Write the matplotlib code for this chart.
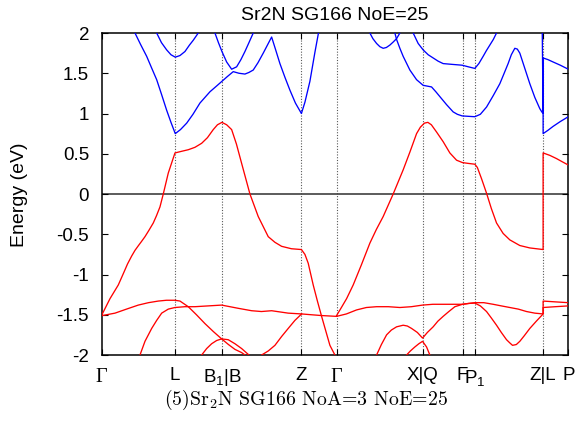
import matplotlib
matplotlib.use('Agg')
import matplotlib.pyplot as plt

plt.rcParams['font.family'] = ['Liberation Sans', 'DejaVu Sans']
plt.rcParams['mathtext.fontset'] = 'custom'
plt.rcParams['mathtext.rm'] = 'Liberation Sans'
plt.rcParams['mathtext.it'] = 'Liberation Sans:italic'
plt.rcParams['mathtext.bf'] = 'Liberation Sans:bold'

# ---------------- data ----------------
title = "Sr2N SG166 NoE=25"
caption = "(5)Sr$_2$N SG166 NoA=3 NoE=25"
ylabel = "Energy (eV)"

kpath_pos = [0, 73.5, 120.5, 200, 235.2, 321.2, 361.2, 373.5, 441.8, 467]
kpath_labels = ["Γ", "L", "B$_1$|B", "Z", "Γ", "X|Q", "F", "P$_1$", "Z|L", "P"]

ytick_vals = [-2, -1.5, -1, -0.5, 0, 0.5, 1, 1.5, 2]
ytick_labels = ["-2", "-1.5", "-1", "-0.5", "0", "0.5", "1", "1.5", "2"]

# valence bands (red)
v1_k = [0, 8.5, 16.8, 22.5, 26, 30.2, 33.5, 37, 40, 43.5, 47.5, 51.8, 55, 58.5, 61.8,
        66.8, 73.5, 80, 86.8, 93.5, 100.2, 106, 111.8, 116, 120.5, 125.2, 130.2, 135,
        140.2, 148.5, 156.8, 166.8, 173.5, 180.2, 190, 200, 203.5, 206.8, 211.8, 216,
        220.2, 228.5, 233.5, 236]
v1_e = [-1.51, -1.30, -1.13, -0.97, -0.87, -0.77, -0.70, -0.64, -0.59, -0.53, -0.45,
        -0.36, -0.27, -0.16, 0.0, 0.26, 0.51, 0.53, 0.55, 0.58, 0.63, 0.70, 0.80, 0.86,
        0.89, 0.86, 0.80, 0.62, 0.38, 0.0, -0.28, -0.53, -0.60, -0.65, -0.68, -0.69,
        -0.75, -0.86, -1.13, -1.33, -1.52, -1.88, -2.0, -2.1]

v2_k = [235.2, 240, 245.2, 251.8, 260, 268.5, 275, 281.8, 291.8, 301.8, 308.5, 315.2,
        319, 323, 326.5, 330, 335.2, 341.8, 348.5, 355.2, 361.2, 367, 373.5, 376, 380.2,
        385.2, 390, 395.2, 401.8, 408.5, 418.5, 428.5, 441.8, 441.8, 448.5, 455.2, 461, 467]
v2_e = [-1.51, -1.41, -1.30, -1.13, -0.88, -0.61, -0.44, -0.28, 0.0, 0.30, 0.52, 0.75,
        0.83, 0.88, 0.89, 0.86, 0.77, 0.65, 0.51, 0.42, 0.39, 0.38, 0.37, 0.33, 0.19,
        0.01, -0.18, -0.36, -0.49, -0.57, -0.64, -0.67, -0.69, 0.51, 0.48, 0.44, 0.40, 0.36]

va_k = [0.8, 13.5, 25, 36.8, 47, 56.8, 65, 73.5, 78.5, 86.8, 95, 103.5, 112, 120.2,
        127, 133.5, 140.2, 143.5, 147]
va_e = [-1.51, -1.48, -1.43, -1.38, -1.35, -1.33, -1.32, -1.32, -1.33, -1.40, -1.50,
        -1.61, -1.71, -1.80, -1.87, -1.93, -1.97, -2.0, -2.04]

vb_k = [36, 38.5, 43.5, 50.2, 55.2, 60.2, 66.8, 73.5, 83.5, 93.5, 106.8, 120.2, 128.5,
        136.8, 150.2, 160, 170.2, 186.8, 200.2, 210, 220.2, 235.2, 245, 255.2, 265, 275.2,
        287, 298.5, 310, 321.2, 331.5, 341.8, 351.5, 361.2, 367, 373.5, 382.5, 391.8, 400,
        408.5, 417, 425.2, 433.5, 441.8, 441.8, 454, 467]
vb_e = [-2.08, -2.0, -1.83, -1.67, -1.57, -1.48, -1.43, -1.41, -1.40, -1.40, -1.39,
        -1.38, -1.40, -1.42, -1.45, -1.46, -1.45, -1.48, -1.49, -1.50, -1.51, -1.52,
        -1.49, -1.44, -1.41, -1.40, -1.40, -1.41, -1.40, -1.38, -1.37, -1.37, -1.37,
        -1.37, -1.36, -1.35, -1.35, -1.37, -1.39, -1.41, -1.43, -1.46, -1.48, -1.49,
        -1.33, -1.34, -1.35]

vc_k = [98, 100.2, 105.2, 110.2, 115.2, 120.2, 126.8, 133.5, 140.2, 147.5, 150]
vc_e = [-2.06, -2.0, -1.92, -1.86, -1.82, -1.80, -1.81, -1.86, -1.92, -2.0, -2.05]

vd_k = [157, 160.2, 166.8, 173.5, 180.2, 186.8, 193.5, 200.2]
vd_e = [-2.06, -2.0, -1.95, -1.88, -1.77, -1.67, -1.57, -1.49]

ve_k = [272, 275.2, 280, 285.2, 290, 295.2, 301.8, 306, 310.2, 316, 321.2, 321.2, 326,
        331.8, 336.5, 341.8, 347.5, 353.5, 361.2, 367, 373.5, 379, 385.2, 390, 395.2,
        400, 405.2, 408.5, 411.2, 415, 418.5, 423, 428.5, 435, 441.8, 441.8, 454, 467]
ve_e = [-2.1, -2.0, -1.87, -1.75, -1.69, -1.65, -1.63, -1.64, -1.67, -1.72, -1.79,
        -1.79, -1.72, -1.65, -1.58, -1.52, -1.46, -1.40, -1.37, -1.36, -1.355, -1.39,
        -1.46, -1.54, -1.63, -1.72, -1.81, -1.85, -1.88, -1.87, -1.83, -1.76, -1.67,
        -1.58, -1.49, -1.41, -1.40, -1.39]

vf_k = [303, 305.2, 309, 313.5, 317.5, 321.2, 325.2, 328.5, 330]
vf_e = [-2.08, -2.0, -1.95, -1.90, -1.86, -1.83, -1.90, -2.0, -2.05]

# conduction bands (blue)
c1_k = [28, 33.5, 39, 45.2, 50, 55.2, 60, 65.2, 69.5, 73.8, 79, 85.2, 91.5, 98.5, 108.5,
        115, 120.5, 126, 131.8, 137.5, 143.5, 147.5, 151.8, 156.5, 161.8, 166, 170.2,
        174.5, 178.5, 183.5, 188.5, 194, 200, 203.5, 208.5, 213.5, 217.5, 219]
c1_e = [2.14, 2.0, 1.86, 1.71, 1.57, 1.42, 1.24, 1.04, 0.89, 0.75, 0.80, 0.88, 0.99,
        1.13, 1.27, 1.34, 1.40, 1.46, 1.52, 1.50, 1.49, 1.51, 1.54, 1.63, 1.75, 1.85,
        1.95, 1.78, 1.62, 1.45, 1.29, 1.13, 1.00, 1.14, 1.40, 1.76, 2.03, 2.15]

c2_k = [50, 55.2, 60, 65.2, 69.5, 73.8, 78.5, 83.5, 88, 91.8, 96.8, 100]
c2_e = [2.12, 2.0, 1.88, 1.79, 1.73, 1.70, 1.72, 1.77, 1.85, 1.91, 2.0, 2.06]

c3_k = [110, 113.5, 117, 120.5, 125.2, 130.2, 135.2, 139.5, 143.5, 147.5, 151.8, 155]
c3_e = [2.15, 2.0, 1.88, 1.77, 1.64, 1.55, 1.58, 1.67, 1.77, 1.88, 2.0, 2.08]

c4_k = [265, 268.5, 271.5, 275.2, 278.5, 281.8, 285, 288.5, 292, 295.2, 298.5, 301]
c4_e = [2.1, 2.0, 1.93, 1.87, 1.83, 1.81, 1.82, 1.85, 1.89, 1.93, 2.0, 2.06]

c5_k = [291, 293.5, 295.2, 298.5, 301.8, 308.5, 315.2, 321.8, 326, 330.2, 334.5, 338.5,
        345.2, 351.8, 356, 360.8, 367, 373.5, 379, 385.2, 391.8, 398.5, 402.5, 406.8,
        410, 413.5, 416, 418.5, 423.5, 428.5, 433.5, 438.5, 440.5, 441.8, 441.8, 446.5,
        451.8, 459, 467]
c5_e = [2.08, 2.0, 1.92, 1.81, 1.71, 1.54, 1.42, 1.35, 1.34, 1.33, 1.27, 1.21, 1.11,
        1.02, 0.99, 0.97, 0.965, 0.96, 0.99, 1.08, 1.22, 1.37, 1.49, 1.62, 1.73, 1.81,
        1.80, 1.75, 1.56, 1.37, 1.20, 1.06, 1.02, 1.00, 0.75, 0.79, 0.84, 0.90, 0.96]

c6_k = [308, 311.8, 316.8, 321.8, 326.8, 331.8, 336.8, 341.8, 351, 360.8, 367, 373.5,
        377.5, 381.8, 385, 388.5, 392, 395.2, 398, 440.7, 441.8, 441.8, 446.5, 451.8,
        459, 467]
c6_e = [2.1, 2.0, 1.87, 1.79, 1.73, 1.69, 1.65, 1.62, 1.61, 1.60, 1.58, 1.56, 1.62,
        1.71, 1.78, 1.85, 1.92, 2.0, 2.07, 2.3, 1.0, 1.69, 1.67, 1.64, 1.60, 1.55]

valence = [(v1_k, v1_e), (v2_k, v2_e), (va_k, va_e), (vb_k, vb_e), (vc_k, vc_e),
           (vd_k, vd_e), (ve_k, ve_e), (vf_k, vf_e)]
conduction = [(c1_k, c1_e), (c2_k, c2_e), (c3_k, c3_e), (c4_k, c4_e), (c5_k, c5_e),
              (c6_k, c6_e)]

# ---------------- figure ----------------
W, H = 578, 437
fig = plt.figure(figsize=(W / 100, H / 100), dpi=100)
ax = fig.add_axes([101.5 / W, 1 - 355 / H, 466.8 / W, 322 / H])

for k in kpath_pos[1:-1]:
    ax.axvline(k, color='0.35', ls=(0, (1, 1.5)), lw=0.8, zorder=1)
ax.axhline(0, color='0.25', lw=1.2, zorder=1.5)

for k, e in valence:
    ax.plot(k, e, color='#ff0000', lw=0.95, zorder=3, solid_joinstyle='round')
for k, e in conduction:
    ax.plot(k, e, color='#0000ff', lw=0.95, zorder=3, solid_joinstyle='round')

ax.set_xlim(kpath_pos[0], kpath_pos[-1])
ax.set_ylim(-2, 2)

ax.set_xticks(kpath_pos)
ax.set_xticklabels(kpath_labels)
ax.set_yticks(ytick_vals)
ax.set_yticklabels(ytick_labels)
ax.tick_params(axis='x', direction='in', length=4, top=True, pad=9, labelsize=13.5)
ax.tick_params(axis='y', direction='in', length=4, right=True, pad=9, labelsize=13.5)
for lbl in ax.get_xticklabels():
    if lbl.get_text() == "Γ":
        lbl.set_fontfamily('Liberation Serif')
        lbl.set_fontsize(14.5)

for s in ax.spines.values():
    s.set_linewidth(1.1)
    s.set_color('black')

fig.text(335 / W, 1 - 15 / H, title, ha='center', va='center', fontsize=14)
fig.text(20 / W, 1 - 195 / H, ylabel, ha='center', va='center', rotation=90, fontsize=14)
fig.text(306 / W, 1 - 400 / H, caption, ha='center', va='center', fontsize=14.3,
         family=['cmr10', 'DejaVu Serif'], math_fontfamily='cm')

fig.savefig('out.png', dpi=100)
